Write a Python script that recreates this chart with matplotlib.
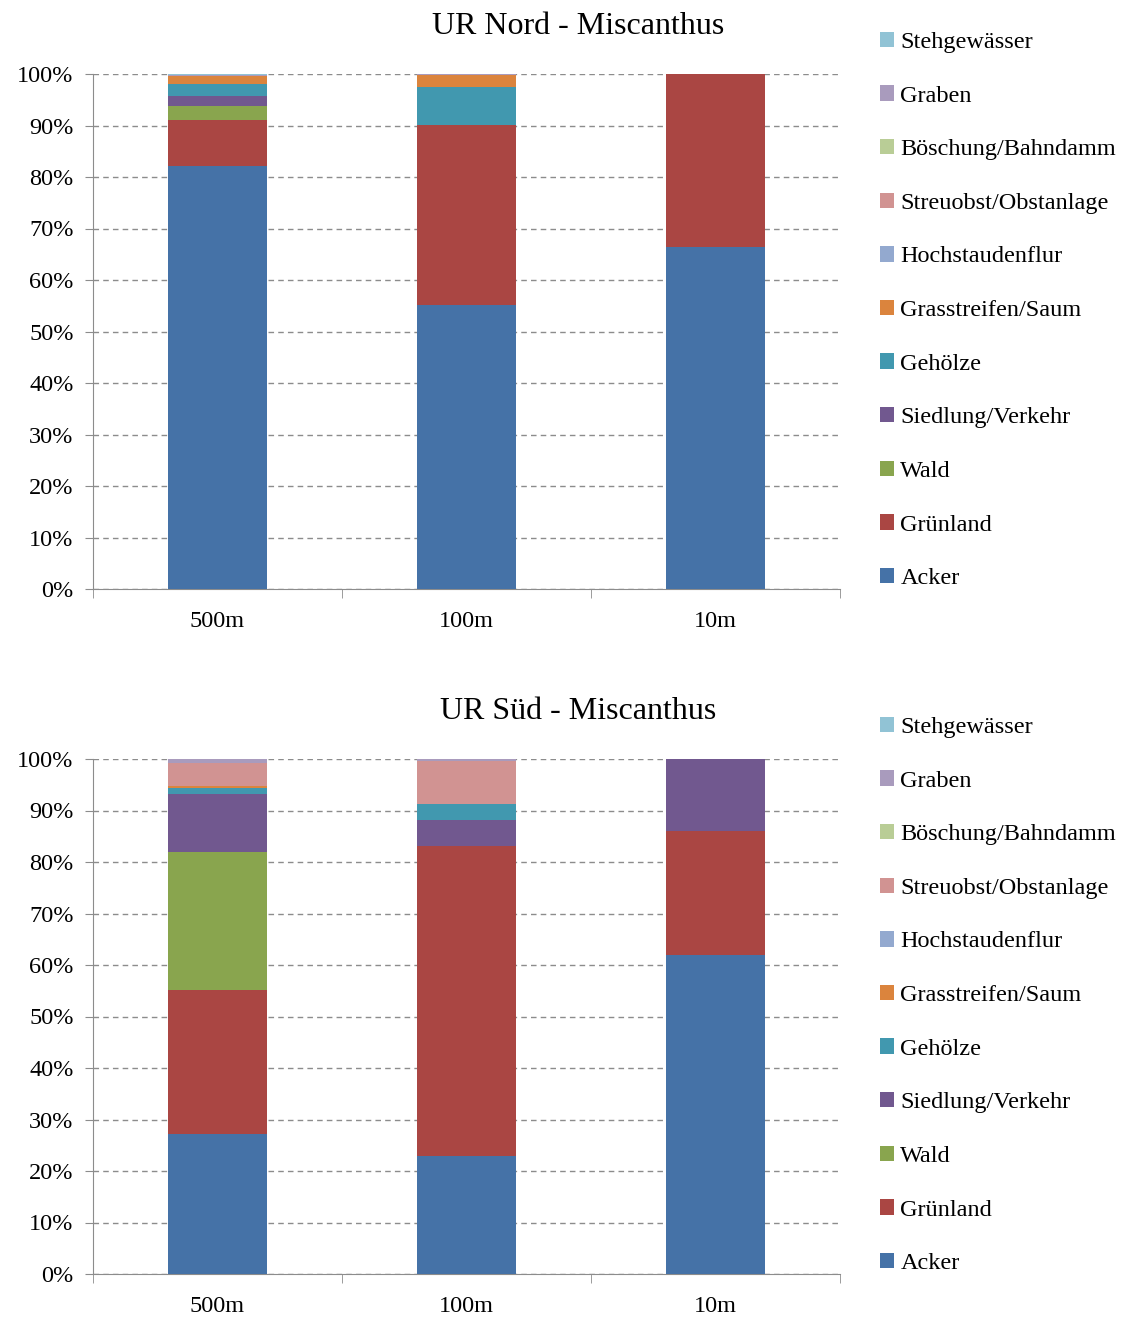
import matplotlib
matplotlib.use("Agg")
import matplotlib.pyplot as plt
import numpy as np
from matplotlib.ticker import MultipleLocator, FuncFormatter
from matplotlib.patches import Patch

plt.rcParams['font.family'] = ['Liberation Serif', 'DejaVu Serif']

distances = ["500m", "100m", "10m"]
classes = ["Acker", "Grünland", "Wald", "Siedlung/Verkehr", "Gehölze",
           "Grasstreifen/Saum", "Hochstaudenflur", "Streuobst/Obstanlage",
           "Böschung/Bahndamm", "Graben", "Stehgewässer"]
colors = ["#4572A7", "#AA4643", "#89A54E", "#71588F", "#4198AF", "#DB843D",
          "#93A9CF", "#D19392", "#B9CD96", "#A99BBD", "#91C3D5"]

# shares in percent per class, for 500m / 100m / 10m
nord_acker = [82.1, 55.1, 66.4]
nord_gruenland = [9.0, 35.0, 33.6]
nord_wald = [2.7, 0.0, 0.0]
nord_siedlung = [2.0, 0.0, 0.0]
nord_gehoelze = [2.2, 7.4, 0.0]
nord_grasstreifen = [1.7, 2.3, 0.0]
nord_hochstauden = [0.0, 0.0, 0.0]
nord_streuobst = [0.0, 0.0, 0.0]
nord_boeschung = [0.0, 0.0, 0.0]
nord_graben = [0.1, 0.2, 0.0]
nord_stehgewaesser = [0.2, 0.0, 0.0]

sued_acker = [27.2, 22.9, 61.9]
sued_gruenland = [27.9, 60.2, 24.1]
sued_wald = [26.8, 0.0, 0.0]
sued_siedlung = [11.4, 5.1, 14.0]
sued_gehoelze = [1.0, 3.1, 0.0]
sued_grasstreifen = [0.5, 0.0, 0.0]
sued_hochstauden = [0.0, 0.0, 0.0]
sued_streuobst = [4.5, 8.4, 0.0]
sued_boeschung = [0.0, 0.0, 0.0]
sued_graben = [0.7, 0.3, 0.0]
sued_stehgewaesser = [0.0, 0.0, 0.0]

nord = [nord_acker, nord_gruenland, nord_wald, nord_siedlung, nord_gehoelze,
        nord_grasstreifen, nord_hochstauden, nord_streuobst, nord_boeschung,
        nord_graben, nord_stehgewaesser]
sued = [sued_acker, sued_gruenland, sued_wald, sued_siedlung, sued_gehoelze,
        sued_grasstreifen, sued_hochstauden, sued_streuobst, sued_boeschung,
        sued_graben, sued_stehgewaesser]

W, H = 1146, 1320
fig = plt.figure(figsize=(W / 100, H / 100), dpi=100)
TXT = 17.5


def draw(data, title, top_px):
    left, right = 93, 840
    bottom_px = top_px + 515
    ax = fig.add_axes([left / W, 1 - bottom_px / H, (right - left) / W, 515 / H])
    vals = np.array(data, dtype=float)
    totals = vals.sum(axis=0)
    shares = vals / totals * 100
    x = np.arange(len(distances))
    base = np.zeros(len(distances))
    for s, c in zip(shares, colors):
        ax.bar(x, s, bottom=base, width=0.4, color=c, edgecolor="none", zorder=3)
        base += s
    ax.set_xlim(-0.5, 2.5)
    ax.set_ylim(0, 100)
    ax.yaxis.set_major_locator(MultipleLocator(10))
    ax.yaxis.set_major_formatter(FuncFormatter(lambda v, p: f"{v:.0f}%"))
    ax.grid(axis="y", color="#8c8c8c", linestyle=(0, (4, 3)), linewidth=1.0, zorder=0)
    ax.set_xticks(x)
    ax.set_xticklabels(distances, fontsize=TXT)
    ax.set_xticks([-0.5, 0.5, 1.5, 2.5], minor=True)
    ax.tick_params(axis="x", which="major", length=0, pad=16)
    ax.tick_params(axis="x", which="minor", length=6.5, color="#8c8c8c", direction="out")
    ax.tick_params(axis="y", labelsize=TXT, length=6, color="#8c8c8c", pad=8)
    for side in ("top", "right"):
        ax.spines[side].set_visible(False)
    for side in ("left", "bottom"):
        ax.spines[side].set_color("#8c8c8c")
    fig.text(578 / W, 1 - (top_px - 48) / H, title, ha="center", va="center", fontsize=23)
    handles = [Patch(facecolor=c, edgecolor="none") for c in colors][::-1]
    labels = classes[::-1]
    fig.legend(handles, labels, loc="upper left",
               bbox_to_anchor=(870 / W, 1 - (top_px - 52) / H),
               frameon=False, fontsize=TXT, handlelength=0.6, handleheight=0.6,
               handletextpad=0.25, labelspacing=1.33, borderaxespad=0)
    return ax


draw(nord, "UR Nord - Miscanthus", 74)
draw(sued, "UR Süd - Miscanthus", 759)

fig.savefig("out.png", dpi=100)
